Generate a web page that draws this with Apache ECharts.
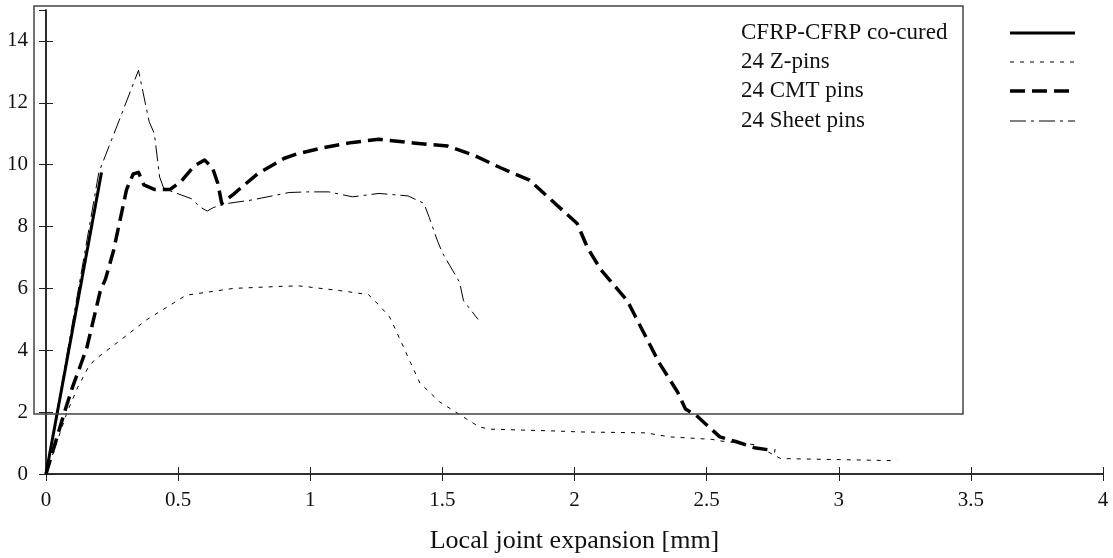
<!DOCTYPE html>
<html>
<head>
<meta charset="utf-8">
<script src="https://cdn.jsdelivr.net/npm/echarts@6/dist/echarts.min.js"></script>
<style>html,body{margin:0;padding:0;background:#fff}#c{width:1113px;height:558px}</style>
</head>
<body>
<div id="c"></div>
<script>
const xTicks = [0, 0.5, 1, 1.5, 2, 2.5, 3, 3.5, 4];
const yTicks = [0, 2, 4, 6, 8, 10, 12, 14];
const seriesNames = ['CFRP-CFRP co-cured', '24 Z-pins', '24 CMT pins', '24 Sheet pins'];

const cocured = [[0,0],[0.21,9.75]];
const zpins = [[0,0],[0.08,2.0],[0.12,2.8],[0.16,3.45],[0.185,3.7],[0.27,4.25],[0.38,4.98],[0.53,5.78],[0.71,6.0],[0.9,6.07],[0.96,6.08],[1.12,5.92],[1.22,5.8],[1.26,5.46],[1.3,5.08],[1.32,4.72],[1.37,3.78],[1.415,2.94],[1.49,2.33],[1.58,1.84],[1.64,1.52],[1.68,1.45],[1.93,1.39],[2.02,1.36],[2.27,1.33],[2.36,1.2],[2.52,1.12],[2.55,1.07],[2.68,0.95],[2.78,0.5],[3.22,0.43]];
const cmtpins = [[0,0],[0.07,2.0],[0.1,2.8],[0.13,3.5],[0.155,4.1],[0.18,5.0],[0.205,5.9],[0.225,6.3],[0.255,7.2],[0.28,8.2],[0.305,9.2],[0.33,9.7],[0.35,9.75],[0.37,9.35],[0.41,9.2],[0.47,9.2],[0.51,9.45],[0.56,9.95],[0.6,10.15],[0.63,9.9],[0.65,9.4],[0.665,8.75],[0.71,9.05],[0.8,9.7],[0.9,10.2],[0.95,10.35],[1.05,10.55],[1.16,10.72],[1.26,10.82],[1.39,10.7],[1.52,10.6],[1.62,10.3],[1.72,9.9],[1.83,9.5],[1.9,8.95],[2.01,8.1],[2.05,7.3],[2.1,6.6],[2.2,5.6],[2.26,4.6],[2.32,3.6],[2.39,2.65],[2.42,2.1],[2.46,1.9],[2.55,1.2],[2.61,1.05],[2.68,0.85],[2.76,0.75]];
const sheetpins = [[0,0],[0.2,9.75],[0.28,11.5],[0.35,13.05],[0.39,11.4],[0.41,11.0],[0.43,9.6],[0.445,9.25],[0.48,9.12],[0.55,8.9],[0.585,8.62],[0.61,8.5],[0.635,8.62],[0.69,8.75],[0.78,8.86],[0.92,9.1],[0.99,9.12],[1.07,9.12],[1.16,8.96],[1.26,9.07],[1.37,8.99],[1.43,8.75],[1.45,8.3],[1.48,7.57],[1.5,7.15],[1.565,6.2],[1.58,5.6],[1.635,5.0]];

const FONT = '"Liberation Serif", "Times New Roman", serif';
const chart = echarts.init(document.getElementById('c'), null, {renderer: 'canvas'});

const styles = [
  {width: 3, type: 'solid'},
  {width: 1, type: [4, 6]},
  {width: 3.5, type: [15, 7]},
  {width: 1, type: [16, 5, 3, 5]}
];
const datas = [cocured, zpins, cmtpins, sheetpins];
const order = [1, 3, 2, 0];

const legendTop = [33, 62, 91, 121];
const graphics = [
  {type: 'rect', shape: {x: 34, y: 6, width: 929, height: 408}, style: {fill: null, stroke: '#444', lineWidth: 1.5}, z: 5}
];
seriesNames.forEach((n, i) => {
  graphics.push({type: 'text', x: 741, y: legendTop[i], style: {text: n, font: '23px ' + FONT, fill: '#111', textVerticalAlign: 'middle'}, z: 10});
  graphics.push({type: 'line', shape: {x1: 1010, y1: legendTop[i], x2: 1075, y2: legendTop[i]},
    style: {stroke: '#000', lineWidth: styles[i].width, lineDash: styles[i].type === 'solid' ? null : styles[i].type}, z: 10});
});

const axisCommon = {
  axisLine: {show: true, lineStyle: {color: '#222', width: 1.5}},
  axisTick: {show: true, inside: true, length: 7, lineStyle: {color: '#222', width: 1}},
  splitLine: {show: false}
};

chart.setOption({
  animation: false,
  backgroundColor: '#fff',
  grid: {left: 46, right: 10, top: 10, bottom: 84, containLabel: false, outerBoundsMode: 'none'},
  xAxis: [
    Object.assign({type: 'value', min: xTicks[0], max: xTicks[xTicks.length - 1], interval: 0.5, position: 'bottom',
      name: 'Local joint expansion [mm]', nameLocation: 'middle', nameGap: 54,
      nameTextStyle: {fontFamily: FONT, fontSize: 26, color: '#111'},
      axisLabel: {fontFamily: FONT, fontSize: 21, color: '#111', margin: 16}}, axisCommon),
    Object.assign({type: 'value', min: 0, max: 4, interval: 0.5, position: 'top', axisLabel: {show: false}}, axisCommon)
  ],
  yAxis: [
    Object.assign({type: 'value', min: yTicks[0], max: 15, interval: 2, position: 'left',
      axisLabel: {fontFamily: FONT, fontSize: 21, color: '#111', margin: 18, showMaxLabel: false}}, axisCommon),
    Object.assign({type: 'value', min: 0, max: 15, interval: 2, position: 'right', axisLabel: {show: false}}, axisCommon)
  ],
  graphic: graphics,
  series: order.map(i => ({
    name: seriesNames[i], type: 'line', data: datas[i], showSymbol: false, symbol: 'none',
    xAxisIndex: 0, yAxisIndex: 0, z: 3,
    lineStyle: {color: '#000', width: styles[i].width, type: styles[i].type, cap: 'butt', join: 'round'}
  }))
});
</script>
</body>
</html>
